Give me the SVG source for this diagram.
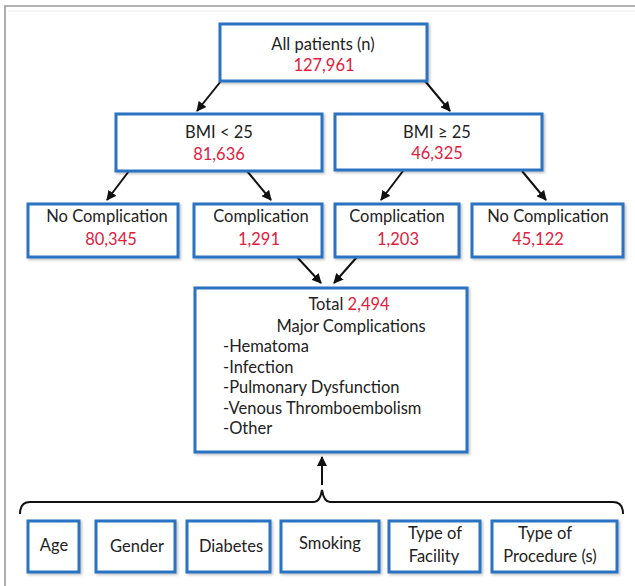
<svg xmlns="http://www.w3.org/2000/svg" width="635" height="586" viewBox="0 0 635 586">
<defs>
<marker id="ah" viewBox="0 0 10 10" refX="9" refY="5" markerWidth="5" markerHeight="5" orient="auto" markerUnits="strokeWidth">
<path d="M0,0 L10,5 L0,10 z" fill="#111"/>
</marker>
<filter id="sh" x="-5%" y="-5%" width="115%" height="120%">
<feDropShadow dx="1.5" dy="1.5" stdDeviation="1" flood-color="#000" flood-opacity="0.25"/>
</filter>
</defs>
<style>
.box{fill:#fff;stroke:#2a72c2;stroke-width:3;filter:url(#sh)}
.t{font-family:Lato,"Liberation Sans",sans-serif;font-size:16.5px;fill:#222;text-anchor:middle}
.l{text-anchor:start}
.r{fill:#e0203c}
.c{stroke:#111;stroke-width:2;fill:none}
.ca{stroke:#111;stroke-width:2;fill:none;marker-end:url(#ah)}
</style>
<rect width="635" height="586" fill="#fff"/>
<path d="M5,586 V6 H635" fill="none" stroke="#9a9a9a" stroke-width="1.6"/>
<path d="M8,11 H635" fill="none" stroke="#eeeeee" stroke-width="1"/>

<g id="connectors">
<line class="ca" x1="221" y1="81" x2="197" y2="111"/>
<line class="ca" x1="425" y1="81" x2="450" y2="111"/>
<line class="ca" x1="129" y1="171" x2="107" y2="200"/>
<line class="ca" x1="247" y1="171" x2="271" y2="200"/>
<line class="ca" x1="403" y1="171" x2="381" y2="200"/>
<line class="ca" x1="522" y1="171" x2="546" y2="200"/>
<line class="ca" x1="297" y1="257" x2="321" y2="283"/>
<line class="ca" x1="357" y1="257" x2="334" y2="283"/>
<line class="ca" x1="322" y1="485" x2="322" y2="457"/>
<path class="c" d="M20,514 Q20,502 30,502 H314 Q320,502 322,490 Q324,502 330,502 H613 Q623,502 623,514"/>
</g>

<g id="n-all">
<rect class="box" x="220" y="24" width="207" height="57"/>
<text class="t" x="323" y="50">All patients (n)</text>
<text class="t r" x="324" y="71">127,961</text>
</g>
<g id="n-bmi-lt25">
<rect class="box" x="116" y="114" width="206" height="57"/>
<text class="t" x="219" y="138">BMI &lt; 25</text>
<text class="t r" x="219" y="160">81,636</text>
</g>
<g id="n-bmi-ge25">
<rect class="box" x="335" y="114" width="207" height="56"/>
<text class="t" x="437" y="138">BMI ≥ 25</text>
<text class="t r" x="437" y="159">46,325</text>
</g>
<g id="n-nocomp1">
<rect class="box" x="28" y="204" width="150" height="53"/>
<text class="t" x="107" y="222">No Complication</text>
<text class="t r" x="111" y="245">80,345</text>
</g>
<g id="n-comp1">
<rect class="box" x="194" y="204" width="128" height="53"/>
<text class="t" x="261" y="222">Complication</text>
<text class="t r" x="259" y="245">1,291</text>
</g>
<g id="n-comp2">
<rect class="box" x="335" y="204" width="124" height="53"/>
<text class="t" x="397" y="222">Complication</text>
<text class="t r" x="398" y="245">1,203</text>
</g>
<g id="n-nocomp2">
<rect class="box" x="472" y="204" width="151" height="53"/>
<text class="t" x="548" y="222">No Complication</text>
<text class="t r" x="538" y="245">45,122</text>
</g>
<g id="n-total">
<rect class="box" x="195" y="288" width="272" height="164"/>
<text class="t" x="349" y="310">Total <tspan class="r">2,494</tspan></text>
<text class="t" x="351" y="332">Major Complications</text>
<text class="t l" x="223" y="352">-Hematoma</text>
<text class="t l" x="223" y="372.5">-Infection</text>
<text class="t l" x="223" y="393">-Pulmonary Dysfunction</text>
<text class="t l" x="223" y="413.5">-Venous Thromboembolism</text>
<text class="t l" x="223" y="434">-Other</text>
</g>
<g id="n-age">
<rect class="box" x="28" y="521" width="51" height="51"/>
<text class="t" x="54" y="551">Age</text>
</g>
<g id="n-gender">
<rect class="box" x="96" y="521" width="79" height="51"/>
<text class="t" x="137" y="552">Gender</text>
</g>
<g id="n-diabetes">
<rect class="box" x="187" y="521" width="83" height="51"/>
<text class="t" x="231" y="552">Diabetes</text>
</g>
<g id="n-smoking">
<rect class="box" x="281" y="521" width="98" height="51"/>
<text class="t" x="330" y="549">Smoking</text>
</g>
<g id="n-facility">
<rect class="box" x="389" y="521" width="91" height="51"/>
<text class="t" x="435" y="539">Type of</text>
<text class="t" x="434" y="562">Facility</text>
</g>
<g id="n-procedure">
<rect class="box" x="492" y="521" width="125" height="51"/>
<text class="t" x="545" y="539">Type of</text>
<text class="t" x="550" y="562">Procedure (s)</text>
</g>
</svg>
